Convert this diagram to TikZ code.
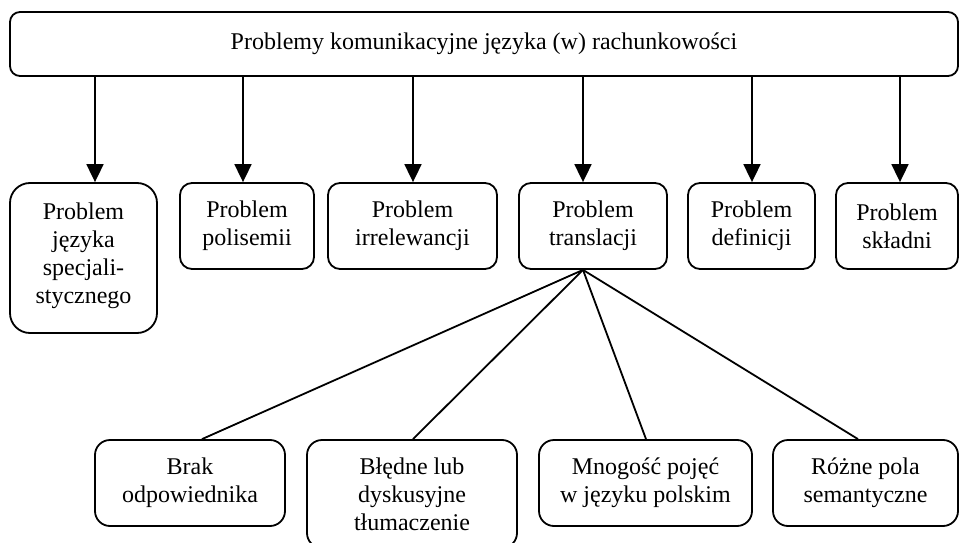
\documentclass[tikz,border=0pt]{standalone}
\usepackage{fontspec}
\setmainfont{Liberation Serif}
\usetikzlibrary{arrows.meta}
\begin{document}
\begin{tikzpicture}[x=1pt,y=-1pt,
  box/.style={draw, line width=1.8pt, rounded corners=12pt, align=center,
    inner sep=0pt, font=\fontsize{24}{28}\selectfont},
  arr/.style={line width=1.8pt, -{Triangle[width=17pt,length=18pt]}},
  link/.style={line width=1.8pt}]
\useasboundingbox (0,0) rectangle (959,543);

% main heading
\node[box, rounded corners=10pt, minimum width=948pt, minimum height=64pt] (top) at (484,44)
  {Problemy komunikacyjne języka (w) rachunkowości};

% first level
\node[box, rounded corners=20pt, minimum width=147pt, minimum height=150pt,
  text depth=9pt] (b1) at (83.5,258)
  {Problem\\języka\\specjali-\\stycznego};
\node[box, minimum width=134pt, minimum height=86pt] (b2) at (247,226) {Problem\\polisemii};
\node[box, minimum width=169pt, minimum height=86pt] (b3) at (412.5,226) {Problem\\irrelewancji};
\node[box, minimum width=148pt, minimum height=86pt] (b4) at (593,226) {Problem\\translacji};
\node[box, minimum width=127pt, minimum height=86pt] (b5) at (751.5,226) {Problem\\definicji};
\node[box, minimum width=122pt, minimum height=86pt] (b6) at (897,226) {Problem\\składni};

% arrow end points on the first-level boxes
\coordinate (e1) at ([xshift=11.5pt]b1.north);
\coordinate (e2) at ([xshift=-4pt]b2.north);
\coordinate (e3) at ([xshift=0.5pt]b3.north);
\coordinate (e4) at ([xshift=-10pt]b4.north);
\coordinate (e5) at ([xshift=0.5pt]b5.north);
\coordinate (e6) at ([xshift=3pt]b6.north);
\foreach \e in {e1,e2,e3,e4,e5,e6}
  \draw[arr] (top.south -| \e) -- (\e);

% second level under translation
\node[box, rounded corners=15pt, minimum width=190pt, minimum height=86pt] (c1) at (190,483)
  {Brak\\odpowiednika};
\node[box, rounded corners=15pt, minimum width=210pt, minimum height=108pt] (c2) at (412,494)
  {Błędne lub\\dyskusyjne\\tłumaczenie};
\node[box, rounded corners=15pt, minimum width=213pt, minimum height=86pt] (c3) at (645.5,483)
  {Mnogość pojęć\\w języku polskim};
\node[box, rounded corners=15pt, minimum width=185pt, minimum height=86pt] (c4) at (865.5,483)
  {Różne pola\\semantyczne};

\coordinate (s) at ([xshift=-10pt]b4.south);
\draw[link] (s) -- ([xshift=12pt]c1.north);
\draw[link] (s) -- ([xshift=1pt]c2.north);
\draw[link] (s) -- ([xshift=0.5pt]c3.north);
\draw[link] (s) -- ([xshift=-7.5pt]c4.north);
\end{tikzpicture}
\end{document}
